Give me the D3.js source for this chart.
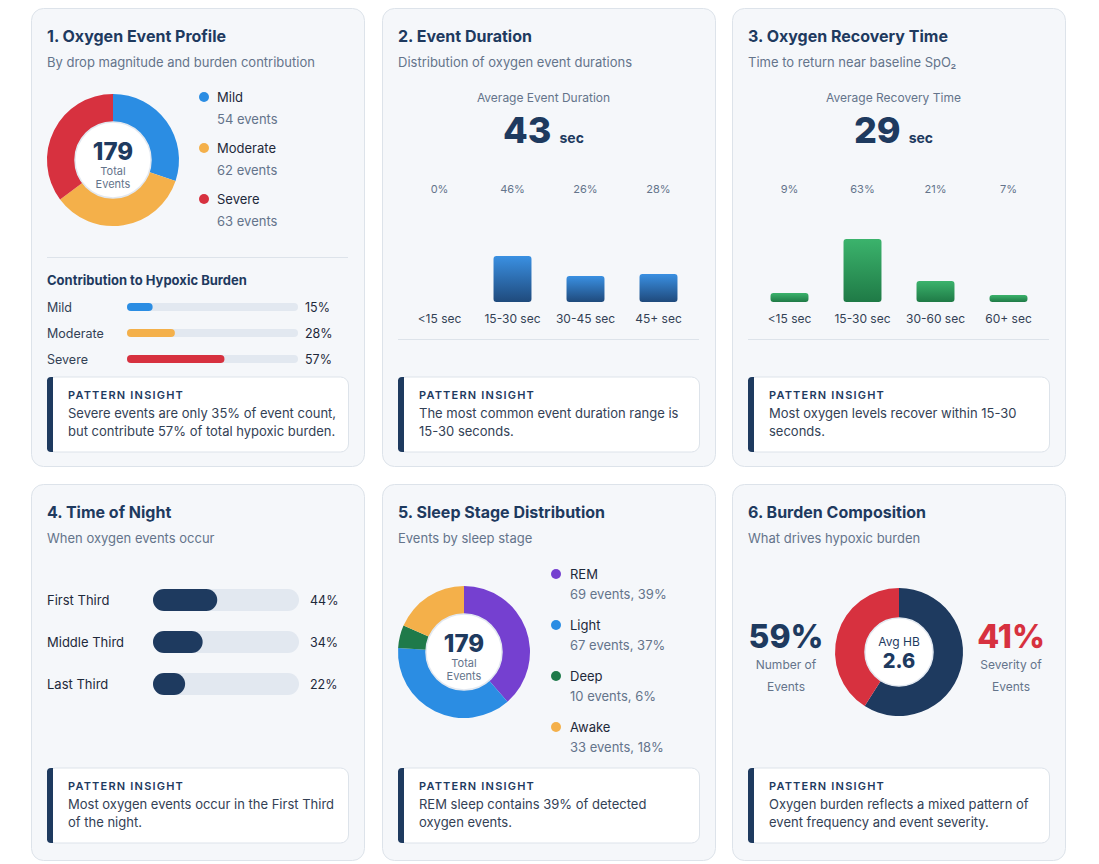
<!DOCTYPE html>
<html>
<head>
<meta charset="utf-8">
<script src="https://d3js.org/d3.v7.min.js"></script>
<style>
body { margin:0; background:#fff; font-family: Inter, "Noto Sans", sans-serif; }
</style>
</head>
<body>
<div id="chart"></div>
<script>
// ---- data ----
const severityNames = ["Mild", "Moderate", "Severe"];
const severityCounts = [54, 62, 63];
const severityBurden = [15, 28, 57];
const durationCats = ["<15 sec", "15-30 sec", "30-45 sec", "45+ sec"];
const durationPct = [0, 46, 26, 28];
const recoveryCats = ["<15 sec", "15-30 sec", "30-60 sec", "60+ sec"];
const recoveryPct = [9, 63, 21, 7];
const nightCats = ["First Third", "Middle Third", "Last Third"];
const nightPct = [44, 34, 22];
const stageNames = ["REM", "Light", "Deep", "Awake"];
const stageCounts = [69, 67, 10, 33];
const stagePct = [39, 37, 6, 18];
const burdenParts = ["Number of Events", "Severity of Events"];
const burdenPct = [59, 41];

const navy = "#1e3a5f", gray = "#64748b", text = "#334155";
const sevColors = ["#2b8de3", "#f4b04a", "#d7313f"];
const stageColors = ["#7540d0", "#2b8de3", "#1f7a4a", "#f4b04a"];

const svg = d3.select("#chart").append("svg").attr("width", 1099).attr("height", 864);
const defs = svg.append("defs");
function grad(id, top, bottom) {
  const g = defs.append("linearGradient").attr("id", id).attr("x1", 0).attr("x2", 0).attr("y1", 0).attr("y2", 1);
  g.append("stop").attr("offset", "0%").attr("stop-color", top);
  g.append("stop").attr("offset", "100%").attr("stop-color", bottom);
}
grad("gBlue", "#3a90e2", "#1f4a7c");
grad("gGreen", "#3bb36c", "#1f7a46");

const cols = [31, 382, 732], rows = [8, 484], cw = 333, ch = [458, 376];

function card(c, r, title, sub) {
  const g = svg.append("g").attr("transform", `translate(${cols[c]},${rows[r]})`);
  g.append("rect").attr("x", 0.5).attr("y", 0.5).attr("width", cw).attr("height", ch[r])
    .attr("rx", 12).attr("fill", "#f5f7fa").attr("stroke", "#dde3ea");
  g.append("text").attr("x", 16).attr("y", 34).attr("fill", navy).style("font-size", "16px").style("font-weight", 700).text(title);
  g.append("text").attr("x", 16).attr("y", 59).attr("fill", gray).style("font-size", "13px").text(sub);
  return g;
}
function insight(g, y, lines) {
  g.append("rect").attr("x", 16.5).attr("y", y).attr("width", 301).attr("height", 75).attr("rx", 8)
    .attr("fill", "#fff").attr("stroke", "#dde3ea");
  g.append("path").attr("d", `M22,${y} h-2 a4,4 0 0 0 -4,4 v67 a4,4 0 0 0 4,4 h2 z`).attr("fill", navy);
  g.append("rect").attr("x", 16).attr("y", y + 3).attr("width", 4).attr("height", 69).attr("fill", navy);
  g.append("text").attr("x", 37).attr("y", y + 22).attr("fill", navy).style("font-size", "11px")
    .style("font-weight", 600).style("letter-spacing", "1.2px").text("PATTERN INSIGHT");
  lines.forEach((l, i) => g.append("text").attr("x", 37).attr("y", y + 41 + i * 18).attr("fill", text)
    .style("font-size", "13px").text(l));
}
function donut(g, cx, cy, ro, ri, values, colors) {
  const pie = d3.pie().sort(null)(values);
  const arc = d3.arc().innerRadius(ri).outerRadius(ro);
  const dg = g.append("g").attr("transform", `translate(${cx},${cy})`);
  dg.selectAll("path").data(pie).join("path").attr("d", arc).attr("fill", (d, i) => colors[i]);
  dg.append("circle").attr("r", ri).attr("fill", "#fff").attr("stroke", "#e2e8f0").attr("stroke-width", 1.5);
  return dg;
}
function center(dg, total) {
  dg.append("text").attr("y", 0).attr("text-anchor", "middle").attr("fill", navy).style("font-size", "24px").style("font-weight", 800).text(total);
  dg.append("text").attr("y", 15).attr("text-anchor", "middle").attr("fill", gray).style("font-size", "11px").text("Total");
  dg.append("text").attr("y", 28).attr("text-anchor", "middle").attr("fill", gray).style("font-size", "11px").text("Events");
}

// ---- Card 1 ----
const c1 = card(0, 0, "1. Oxygen Event Profile", "By drop magnitude and burden contribution");
const d1 = donut(c1, 82, 152, 66, 38, severityCounts, sevColors);
center(d1, d3.sum(severityCounts));
severityNames.forEach((n, i) => {
  const y = 89 + i * 51;
  c1.append("circle").attr("cx", 173).attr("cy", y).attr("r", 5).attr("fill", sevColors[i]);
  c1.append("text").attr("x", 186).attr("y", y + 5).attr("fill", "#1e293b").style("font-size", "13px").text(n);
  c1.append("text").attr("x", 186).attr("y", y + 27).attr("fill", gray).style("font-size", "13px").text(severityCounts[i] + " events");
});
c1.append("line").attr("x1", 16).attr("x2", 317).attr("y1", 249.5).attr("y2", 249.5).attr("stroke", "#dde3ea");
c1.append("text").attr("x", 16).attr("y", 277).attr("fill", navy).style("font-size", "13px").style("font-weight", 700).text("Contribution to Hypoxic Burden");
const xb = d3.scaleLinear().domain([0, 100]).range([0, 171]);
severityNames.forEach((n, i) => {
  const y = 299 + i * 26;
  c1.append("text").attr("x", 16).attr("y", y + 5).attr("fill", text).style("font-size", "12.5px").text(n);
  c1.append("rect").attr("x", 96).attr("y", y - 4).attr("width", xb(100)).attr("height", 8).attr("rx", 4).attr("fill", "#e2e8f0");
  c1.append("rect").attr("x", 96).attr("y", y - 4).attr("width", xb(severityBurden[i])).attr("height", 8).attr("rx", 4).attr("fill", sevColors[i]);
  c1.append("text").attr("x", 274).attr("y", y + 5).attr("fill", "#1e293b").style("font-size", "12.5px").text(severityBurden[i] + "%");
});
insight(c1, 369, ["Severe events are only 35% of event count,", "but contribute 57% of total hypoxic burden."]);

// ---- bar cards ----
function barCard(c, title, sub, label, big, cats, vals, fill, lines) {
  const g = card(c, 0, title, sub);
  g.append("text").attr("x", cw / 2 - 5).attr("y", 94).attr("text-anchor", "middle").attr("fill", gray).style("font-size", "12px").text(label);
  const t = g.append("text").attr("x", cw / 2 - 5).attr("y", 135).attr("text-anchor", "middle").attr("fill", navy);
  t.append("tspan").style("font-size", "36px").style("font-weight", 800).text(big);
  t.append("tspan").attr("dx", 8).style("font-size", "14px").style("font-weight", 700).text("sec");
  const x = d3.scaleBand().domain(cats).range([21, 313]).paddingInner(0.48).paddingOuter(0.24);
  const y = d3.scaleLinear().domain([0, 100]).range([294, 194]);
  g.selectAll(".bar").data(vals).join("rect")
    .attr("x", (d, i) => x(cats[i])).attr("width", x.bandwidth())
    .attr("y", d => y(d)).attr("height", d => y(0) - y(d)).attr("rx", 3).attr("fill", fill);
  g.selectAll(".pl").data(vals).join("text").attr("x", (d, i) => x(cats[i]) + x.bandwidth() / 2).attr("y", 185)
    .attr("text-anchor", "middle").attr("fill", gray).style("font-size", "11px").text(d => d + "%");
  g.append("g").attr("transform", "translate(0,294)").call(d3.axisBottom(x).tickSize(0).tickPadding(12))
    .call(a => a.select(".domain").remove())
    .selectAll("text").attr("fill", text).style("font-size", "12px").style("font-family", "Inter, sans-serif");
  g.append("line").attr("x1", 16).attr("x2", 317).attr("y1", 331.5).attr("y2", 331.5).attr("stroke", "#dde3ea");
  insight(g, 369, lines);
}
barCard(1, "2. Event Duration", "Distribution of oxygen event durations", "Average Event Duration", "43",
  durationCats, durationPct, "url(#gBlue)", ["The most common event duration range is", "15-30 seconds."]);
barCard(2, "3. Oxygen Recovery Time", "Time to return near baseline SpO\u2082", "Average Recovery Time", "29",
  recoveryCats, recoveryPct, "url(#gGreen)", ["Most oxygen levels recover within 15-30", "seconds."]);

// ---- Card 4 ----
const c4 = card(0, 1, "4. Time of Night", "When oxygen events occur");
const xn = d3.scaleLinear().domain([0, 100]).range([0, 146]);
nightCats.forEach((n, i) => {
  const y = 116 + i * 42;
  c4.append("text").attr("x", 16).attr("y", y + 5).attr("fill", "#1e293b").style("font-size", "13px").text(n);
  c4.append("rect").attr("x", 122).attr("y", y - 11).attr("width", xn(100)).attr("height", 22).attr("rx", 11).attr("fill", "#e2e8f0");
  c4.append("rect").attr("x", 122).attr("y", y - 11).attr("width", xn(nightPct[i])).attr("height", 22).attr("rx", 11).attr("fill", navy);
  c4.append("text").attr("x", 279).attr("y", y + 5).attr("fill", "#1e293b").style("font-size", "12.5px").text(nightPct[i] + "%");
});
insight(c4, 284, ["Most oxygen events occur in the First Third", "of the night."]);

// ---- Card 5 ----
const c5 = card(1, 1, "5. Sleep Stage Distribution", "Events by sleep stage");
const d5 = donut(c5, 82, 168, 66, 38, stageCounts, stageColors);
center(d5, d3.sum(stageCounts));
stageNames.forEach((n, i) => {
  const y = 90 + i * 51;
  c5.append("circle").attr("cx", 174).attr("cy", y).attr("r", 5).attr("fill", stageColors[i]);
  c5.append("text").attr("x", 188).attr("y", y + 5).attr("fill", "#1e293b").style("font-size", "13px").text(n);
  c5.append("text").attr("x", 188).attr("y", y + 25).attr("fill", gray).style("font-size", "13px").text(`${stageCounts[i]} events, ${stagePct[i]}%`);
});
insight(c5, 284, ["REM sleep contains 39% of detected", "oxygen events."]);

// ---- Card 6 ----
const c6 = card(2, 1, "6. Burden Composition", "What drives hypoxic burden");
const d6 = donut(c6, 167, 168, 64, 34, burdenPct, [navy, "#d7313f"]);
d6.append("text").attr("y", -6).attr("text-anchor", "middle").attr("fill", navy).style("font-size", "12px").text("Avg HB");
d6.append("text").attr("y", 16).attr("text-anchor", "middle").attr("fill", navy).style("font-size", "20px").style("font-weight", 800).text("2.6");
[[54, navy], [279, "#d7313f"]].forEach(([x, col], i) => {
  const words = burdenParts[i].split(" ");
  c6.append("text").attr("x", x).attr("y", 164).attr("text-anchor", "middle").attr("fill", col).style("font-size", "32px").style("font-weight", 800).text(burdenPct[i] + "%");
  c6.append("text").attr("x", x).attr("y", 185).attr("text-anchor", "middle").attr("fill", gray).style("font-size", "12px").text(words.slice(0, 2).join(" "));
  c6.append("text").attr("x", x).attr("y", 207).attr("text-anchor", "middle").attr("fill", gray).style("font-size", "12px").text(words.slice(2).join(" "));
});
insight(c6, 284, ["Oxygen burden reflects a mixed pattern of", "event frequency and event severity."]);
</script>
</body>
</html>
